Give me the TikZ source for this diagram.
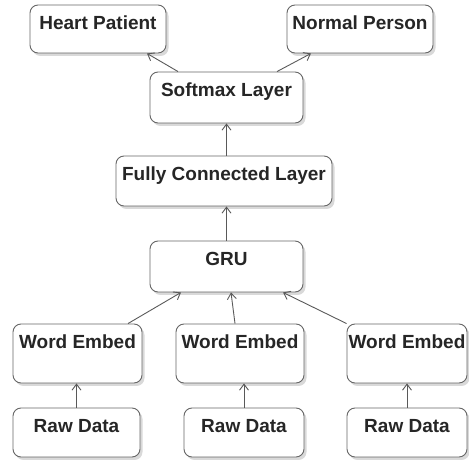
\documentclass[tikz,border=0pt]{standalone}
\usepackage{fontspec}
\setmainfont{Liberation Sans}
\usetikzlibrary{arrows.meta,shadows}

\begin{document}
\begin{tikzpicture}[x=1pt,y=-1pt,>={Straight Barb[length=6pt,width=9pt]},
  font=\fontsize{19}{22}\selectfont\bfseries,
  box/.style 2 args={rectangle,rounded corners=8pt,draw=black!60,fill=white,text=black!85,line width=0.9pt,inner sep=0pt,minimum width=#1,text height=24.5pt,text depth=#2,drop shadow={shadow xshift=2.5pt,shadow yshift=-3pt,fill=black,opacity=0.15}},
  link/.style={->,draw=black!65,line width=0.9pt}]
\useasboundingbox (0,0) rectangle (469,462);
\node[box={136pt}{23.5pt}] (heart) at (98,29) {Heart Patient};
\node[box={146pt}{23.5pt}] (normal) at (360,29) {Normal Person};
\node[box={153pt}{26.5pt}] (softmax) at (226.5,97.5) {Softmax Layer};
\node[box={216pt}{25.5pt}] (fc) at (224,181) {Fully Connected Layer};
\node[box={153pt}{26.5pt}] (gru) at (226.5,266.5) {GRU};
\node[box={129pt}{34.5pt}] (embed1) at (77.5,353.5) {Word Embed};
\node[box={128pt}{34.5pt}] (embed2) at (240,353.5) {Word Embed};
\node[box={120pt}{34.5pt}] (embed3) at (407,353.5) {Word Embed};
\node[box={127pt}{24.5pt}] (raw1) at (76.5,432.5) {Raw Data};
\node[box={120pt}{24.5pt}] (raw2) at (244,432.5) {Raw Data};
\node[box={120pt}{24.5pt}] (raw3) at (407,432.5) {Raw Data};
\draw[link] ([xshift=-48.5pt]softmax.north) -- ([xshift=49pt]heart.south);
\draw[link] ([xshift=50.5pt]softmax.north) -- ([xshift=-49pt]normal.south);
\draw[link] (softmax.south |- fc.north) -- (softmax.south);
\draw[link] (gru.north) -- (gru.north |- fc.south);
\draw[link] ([xshift=50.5pt]embed1.north) -- ([xshift=-45.5pt]gru.south);
\draw[link] ([xshift=-5pt]embed2.north) -- ([xshift=4.5pt]gru.south);
\draw[link] (embed3.north west) -- ([xshift=56.5pt]gru.south);
\draw[link] (raw1.north) -- (raw1.north |- embed1.south);
\draw[link] (raw2.north) -- (raw2.north |- embed2.south);
\draw[link] (raw3.north) -- (raw3.north |- embed3.south);
\end{tikzpicture}
\end{document}
